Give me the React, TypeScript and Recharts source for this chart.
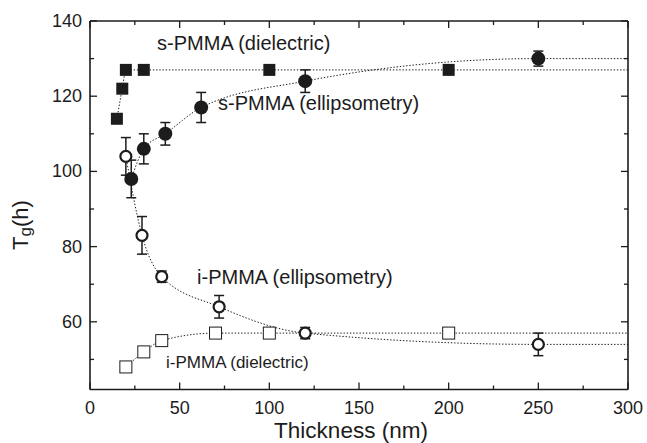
import {
  ComposedChart,
  ErrorBar,
  Line,
  ReferenceDot,
  Scatter,
  XAxis,
  YAxis,
} from "recharts";

// s-PMMA, dielectric (filled squares)
const S_DIEL_X = [15, 18, 20, 30, 100, 200];
const S_DIEL_Y = [114, 122, 127, 127, 127, 127];

// s-PMMA, ellipsometry (filled circles)
const S_ELL_X = [23, 30, 42, 62, 120, 250];
const S_ELL_Y = [98, 106, 110, 117, 124, 130];
const S_ELL_ERR = [5, 4, 3, 4, 3, 2];

// i-PMMA, ellipsometry (open circles)
const I_ELL_X = [20, 29, 40, 72, 120, 250];
const I_ELL_Y = [104, 83, 72, 64, 57, 54];
const I_ELL_ERR = [5, 5, 1.5, 3, 1.5, 3];

// i-PMMA, dielectric (open squares)
const I_DIEL_X = [20, 30, 40, 70, 100, 200];
const I_DIEL_Y = [48, 52, 55, 57, 57, 57];

// dotted guide curves run out to the right edge of the frame
const GUIDE_END = 300;

const X_TICKS = [0, 25, 50, 75, 100, 125, 150, 175, 200, 225, 250, 275, 300];
const Y_TICKS = [50, 60, 70, 80, 90, 100, 110, 120, 130, 140];

const INK = "#1c1c1c";
const FONT = "'Liberation Sans', Arial, Helvetica, sans-serif";

interface Pt {
  x: number;
  y: number;
  err?: number;
}

function points(xs: number[], ys: number[], errs?: number[]): Pt[] {
  return xs.map((x, i) => ({ x, y: ys[i], err: errs ? errs[i] : undefined }));
}

function guide(xs: number[], ys: number[]): Pt[] {
  return [...points(xs, ys), { x: GUIDE_END, y: ys[ys.length - 1] }];
}

const sDiel = points(S_DIEL_X, S_DIEL_Y);
const sEll = points(S_ELL_X, S_ELL_Y, S_ELL_ERR);
const iEll = points(I_ELL_X, I_ELL_Y, I_ELL_ERR);
const iDiel = points(I_DIEL_X, I_DIEL_Y);

function BottomTick({ x, y, payload }: any) {
  const v = payload.value as number;
  const major = v % 50 === 0;
  return (
    <g>
      <line x1={x} x2={x} y1={y} y2={y - (major ? 7 : 4)} stroke={INK} strokeWidth={1.3} />
      {major ? (
        <text x={x} y={y + 18} textAnchor="middle" dominantBaseline="central" fontSize={18} fill={INK} fontFamily={FONT}>
          {v}
        </text>
      ) : null}
    </g>
  );
}

function TopTick({ x, y, payload }: any) {
  const major = (payload.value as number) % 50 === 0;
  return <line x1={x} x2={x} y1={y} y2={y + (major ? 7 : 4)} stroke={INK} strokeWidth={1.3} />;
}

function LeftTick({ x, y, payload }: any) {
  const v = payload.value as number;
  const major = v % 20 === 0;
  return (
    <g>
      <line x1={x} x2={x + (major ? 7 : 4)} y1={y} y2={y} stroke={INK} strokeWidth={1.3} />
      {major ? (
        <text x={x - 8} y={y} textAnchor="end" dominantBaseline="central" fontSize={18} fill={INK} fontFamily={FONT}>
          {v}
        </text>
      ) : null}
    </g>
  );
}

function RightTick({ x, y, payload }: any) {
  const major = (payload.value as number) % 20 === 0;
  return <line x1={x} x2={x - (major ? 7 : 4)} y1={y} y2={y} stroke={INK} strokeWidth={1.3} />;
}

const filledSquare = ({ cx, cy }: any) => (
  <rect x={cx - 6} y={cy - 6} width={12} height={12} fill={INK} />
);
const openSquare = ({ cx, cy }: any) => (
  <rect x={cx - 6} y={cy - 6} width={12} height={12} fill="#fff" stroke={INK} strokeWidth={1} />
);
const filledCircle = ({ cx, cy }: any) => <circle cx={cx} cy={cy} r={7} fill={INK} />;
const openCircle = ({ cx, cy }: any) => (
  <circle cx={cx} cy={cy} r={5.5} fill="#fff" stroke={INK} strokeWidth={2.2} />
);

function note(text: string, size: number) {
  return {
    content: ({ viewBox }: any) => (
      <text
        x={viewBox.x}
        y={viewBox.y}
        dominantBaseline="central"
        fontSize={size}
        fill={INK}
        fontFamily={FONT}
      >
        {text}
      </text>
    ),
  };
}

const guideProps = {
  type: "monotone" as const,
  dataKey: "y",
  stroke: INK,
  strokeWidth: 1,
  strokeDasharray: "1.4 1.8",
  dot: false,
  activeDot: false,
  isAnimationActive: false,
};

export default function App() {
  return (
    <div style={{ position: "absolute", left: 0, top: 0, width: 647, height: 443, background: "#fff", fontFamily: FONT }}>
      <ComposedChart width={647} height={443} margin={{ top: 1, right: 1, bottom: 0, left: 0 }}>
        <XAxis
          xAxisId="b"
          dataKey="x"
          type="number"
          domain={[0, 300]}
          ticks={X_TICKS}
          interval={0}
          tickSize={0}
          tickMargin={0}
          tick={<BottomTick />}
          axisLine={{ stroke: INK, strokeWidth: 1.6 }}
          height={53.5}
          allowDataOverflow
          label={{
            content: () => (
              <text x={351} y={438} textAnchor="middle" fontSize={22.5} fill={INK} fontFamily={FONT}>
                Thickness (nm)
              </text>
            ),
          }}
        />
        <XAxis
          xAxisId="t"
          orientation="top"
          dataKey="x"
          type="number"
          domain={[0, 300]}
          ticks={X_TICKS}
          interval={0}
          tickSize={0}
          tickMargin={0}
          tick={<TopTick />}
          axisLine={{ stroke: INK, strokeWidth: 1.6 }}
          height={20}
          allowDataOverflow
        />
        <YAxis
          yAxisId="l"
          type="number"
          domain={[42, 140]}
          ticks={Y_TICKS}
          interval={0}
          tickSize={0}
          tickMargin={0}
          tick={<LeftTick />}
          axisLine={{ stroke: INK, strokeWidth: 1.6 }}
          width={90}
          allowDataOverflow
          label={{
            content: () => (
              <text
                x={20}
                y={225}
                transform="rotate(-90 20 225)"
                textAnchor="middle"
                dominantBaseline="central"
                fontSize={22}
                fill={INK}
                fontFamily={FONT}
              >
                T
                <tspan fontSize={17} dy={5}>g</tspan>
                <tspan dy={-5}>(h)</tspan>
              </text>
            ),
          }}
        />
        <YAxis
          yAxisId="r"
          orientation="right"
          type="number"
          domain={[42, 140]}
          ticks={Y_TICKS}
          interval={0}
          tickSize={0}
          tickMargin={0}
          tick={<RightTick />}
          axisLine={{ stroke: INK, strokeWidth: 1.6 }}
          width={18}
          allowDataOverflow
        />

        <Line xAxisId="b" yAxisId="l" data={guide(S_DIEL_X, S_DIEL_Y)} {...guideProps} />
        <Line xAxisId="b" yAxisId="l" data={guide(S_ELL_X, S_ELL_Y)} {...guideProps} />
        <Line xAxisId="b" yAxisId="l" data={guide(I_ELL_X, I_ELL_Y)} {...guideProps} />
        <Line xAxisId="b" yAxisId="l" data={guide(I_DIEL_X, I_DIEL_Y)} {...guideProps} />

        <Scatter xAxisId="b" yAxisId="l" data={iDiel} dataKey="y" shape={openSquare} isAnimationActive={false} />
        <Scatter xAxisId="b" yAxisId="l" data={sDiel} dataKey="y" shape={filledSquare} isAnimationActive={false} />
        <Scatter xAxisId="b" yAxisId="l" data={iEll} dataKey="y" shape={openCircle} isAnimationActive={false}>
          <ErrorBar dataKey="err" direction="y" width={5} stroke={INK} strokeWidth={1.5} />
        </Scatter>
        <Scatter xAxisId="b" yAxisId="l" data={sEll} dataKey="y" shape={filledCircle} isAnimationActive={false}>
          <ErrorBar dataKey="err" direction="y" width={5} stroke={INK} strokeWidth={1.5} />
        </Scatter>

        <ReferenceDot xAxisId="b" yAxisId="l" x={37.4} y={134.1} r={0} stroke="none" label={note("s-PMMA (dielectric)", 20)} />
        <ReferenceDot xAxisId="b" yAxisId="l" x={71.4} y={118.1} r={0} stroke="none" label={note("s-PMMA (ellipsometry)", 20)} />
        <ReferenceDot xAxisId="b" yAxisId="l" x={59.7} y={71.9} r={0} stroke="none" label={note("i-PMMA (ellipsometry)", 20)} />
        <ReferenceDot xAxisId="b" yAxisId="l" x={42.4} y={49.3} r={0} stroke="none" label={note("i-PMMA (dielectric)", 17)} />
      </ComposedChart>
    </div>
  );
}
